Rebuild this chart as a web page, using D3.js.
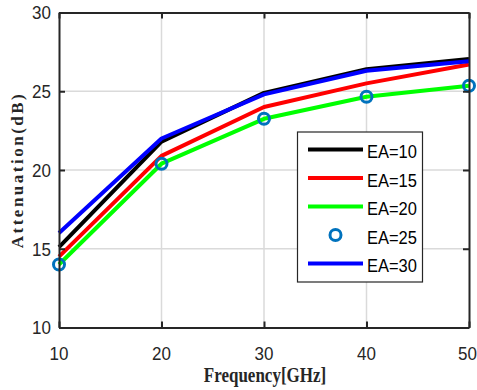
<!DOCTYPE html>
<html>
<head>
<meta charset="utf-8">
<script src="https://cdn.jsdelivr.net/npm/d3@7"></script>
<style>
  body { margin: 0; background: #fff; }
  svg { display: block; }
</style>
</head>
<body>
<svg id="chart"></svg>
<script>
// data
const freqs = [10, 20, 30, 40, 50];
const ea10 = [15.1, 21.8, 24.9, 26.4, 27.05];
const ea15 = [14.5, 20.9, 24.0, 25.5, 26.7];
const ea20 = [14.0, 20.4, 23.25, 24.65, 25.35];
const ea25 = [14.0, 20.4, 23.25, 24.65, 25.35];
const ea30 = [16.0, 22.0, 24.8, 26.3, 26.9];
const xTicks = [10, 20, 30, 40, 50];
const yTicks = [10, 15, 20, 25, 30];

const series = [
  { name: 'EA=10', values: ea10, color: '#000000', type: 'line' },
  { name: 'EA=15', values: ea15, color: '#ff0000', type: 'line' },
  { name: 'EA=20', values: ea20, color: '#00ff00', type: 'line' },
  { name: 'EA=25', values: ea25, color: '#0072bd', type: 'marker' },
  { name: 'EA=30', values: ea30, color: '#0000ff', type: 'line' }
];

const width = 477, height = 390;
const margin = { left: 59, right: 8, top: 12.5, bottom: 62.5 };
const sans = '"Liberation Sans", Arial, sans-serif';
const serif = '"Liberation Serif", "Times New Roman", serif';
const axisColor = '#262626';

const svg = d3.select('#chart')
  .attr('width', width)
  .attr('height', height);

const x = d3.scaleLinear().domain([10, 50]).range([margin.left, width - margin.right]);
const y = d3.scaleLinear().domain([10, 30]).range([height - margin.bottom, margin.top]);

// grid
svg.append('g')
  .selectAll('line')
  .data(xTicks.slice(1, -1))
  .enter().append('line')
  .attr('x1', d => x(d)).attr('x2', d => x(d))
  .attr('y1', y(10)).attr('y2', y(30))
  .style('stroke', '#dadada').style('stroke-width', 1.5);

svg.append('g')
  .selectAll('line')
  .data(yTicks.slice(1, -1))
  .enter().append('line')
  .attr('x1', x(10)).attr('x2', x(50))
  .attr('y1', d => y(d)).attr('y2', d => y(d))
  .style('stroke', '#dadada').style('stroke-width', 1.5);

// series
const line = d3.line()
  .x((d, i) => x(freqs[i]))
  .y(d => y(d));

series.forEach(s => {
  if (s.type === 'line') {
    svg.append('path')
      .datum(s.values)
      .attr('d', line)
      .style('fill', 'none')
      .style('stroke', s.color)
      .style('stroke-width', 4)
      .style('stroke-linejoin', 'round');
  } else {
    svg.append('g')
      .selectAll('circle')
      .data(s.values)
      .enter().append('circle')
      .attr('cx', (d, i) => x(freqs[i]))
      .attr('cy', d => y(d))
      .attr('r', 5.5)
      .style('fill', 'none')
      .style('stroke', s.color)
      .style('stroke-width', 3);
  }
});

// axes box with inward ticks (labels drawn separately, slightly tall like the original)
const axes = [
  svg.append('g').attr('transform', `translate(0,${y(10)})`)
    .call(d3.axisBottom(x).tickValues(xTicks).tickSizeInner(-6).tickSizeOuter(0).tickFormat('')),
  svg.append('g').attr('transform', `translate(${x(10)},0)`)
    .call(d3.axisLeft(y).tickValues(yTicks).tickSizeInner(-6).tickSizeOuter(0).tickFormat('')),
  svg.append('g').attr('transform', `translate(0,${y(30)})`)
    .call(d3.axisTop(x).tickValues(xTicks).tickSizeInner(-6).tickSizeOuter(0).tickFormat('')),
  svg.append('g').attr('transform', `translate(${x(50)},0)`)
    .call(d3.axisRight(y).tickValues(yTicks).tickSizeInner(-6).tickSizeOuter(0).tickFormat(''))
];
axes.forEach(g => {
  g.select('.domain').style('stroke', axisColor).style('stroke-width', 2);
  g.selectAll('.tick line').style('stroke', axisColor).style('stroke-width', 2);
});

const tickStretch = 1.1;
svg.append('g')
  .selectAll('text')
  .data(xTicks)
  .enter().append('text')
  .attr('transform', (d, i) => `translate(${x(d) - (i === xTicks.length - 1 ? 1.5 : 0)},360) scale(1,${tickStretch})`)
  .attr('text-anchor', 'middle')
  .style('font-family', sans)
  .style('font-size', '17px')
  .style('fill', axisColor)
  .text(d => d);

svg.append('g')
  .selectAll('text')
  .data(yTicks)
  .enter().append('text')
  .attr('transform', d => `translate(51,${y(d) + 6.8}) scale(1,${tickStretch})`)
  .attr('text-anchor', 'end')
  .style('font-family', sans)
  .style('font-size', '17px')
  .style('fill', axisColor)
  .text(d => d);

// axis labels
svg.append('text')
  .attr('transform', 'translate(265,382) scale(1,1.2)')
  .attr('text-anchor', 'middle')
  .style('font-family', serif)
  .style('font-weight', 'bold')
  .style('font-size', '17px')
  .style('fill', axisColor)
  .text('Frequency[GHz]');

svg.append('text')
  .attr('transform', 'translate(23,170) rotate(-90)')
  .attr('text-anchor', 'middle')
  .style('font-family', serif)
  .style('font-weight', 'bold')
  .style('font-size', '17px')
  .style('letter-spacing', '2.5px')
  .style('fill', axisColor)
  .text('Attenuation(dB)');

// legend
const legend = svg.append('g');
legend.append('rect')
  .attr('x', 297.5).attr('y', 132)
  .attr('width', 125).attr('height', 150)
  .style('fill', '#fff')
  .style('stroke', axisColor)
  .style('stroke-width', 1.2);

const rowY = d3.scaleLinear().domain([0, 4]).range([149.5, 263.5]);
series.forEach((s, i) => {
  const cy = rowY(i);
  if (s.type === 'line') {
    legend.append('line')
      .attr('x1', 308).attr('x2', 363)
      .attr('y1', cy).attr('y2', cy)
      .style('stroke', s.color)
      .style('stroke-width', 4);
  } else {
    legend.append('circle')
      .attr('cx', 335.5).attr('cy', cy)
      .attr('r', 5.5)
      .style('fill', 'none')
      .style('stroke', s.color)
      .style('stroke-width', 3);
  }
  legend.append('text')
    .attr('transform', `translate(367,${cy + 8.5}) scale(1,1.12)`)
    .style('font-family', sans)
    .style('font-size', '16.5px')
    .style('fill', '#000')
    .text(s.name);
});
</script>
</body>
</html>
